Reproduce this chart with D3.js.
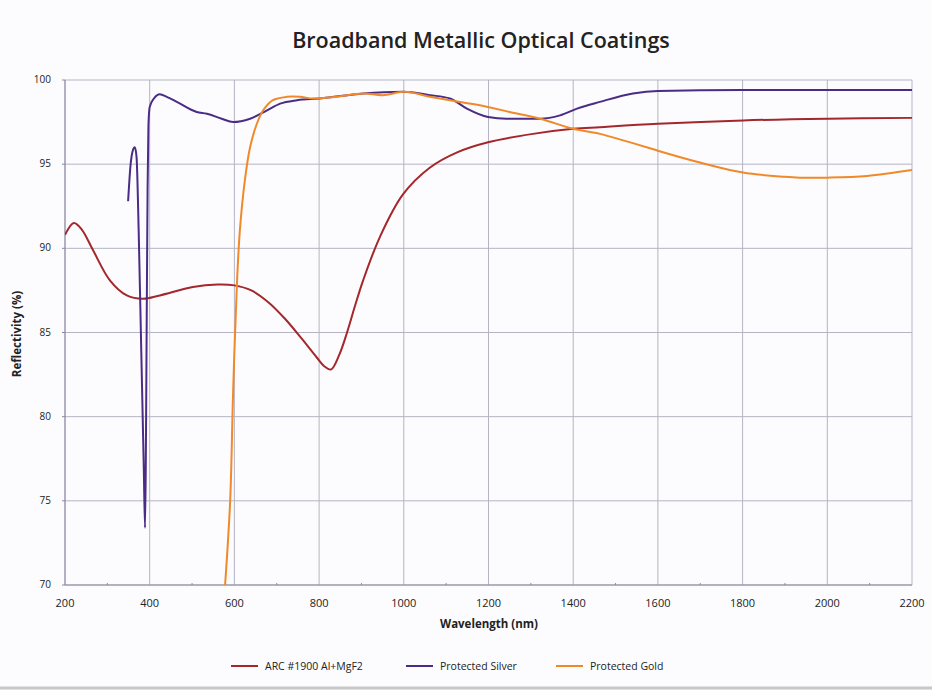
<!DOCTYPE html>
<html><head><meta charset="utf-8">
<script src="https://cdn.jsdelivr.net/npm/d3@7"></script>
<style>
html,body{margin:0;padding:0;background:#fcfcfe;}
svg{display:block;}
text{font-family:"Open Sans","DejaVu Sans",sans-serif;}
</style></head>
<body><svg id="c" width="932" height="690"></svg>
<script>
const title = "Broadband Metallic Optical Coatings";
const xLabel = "Wavelength (nm)";
const yLabel = "Reflectivity (%)";
const xTicks = [200,400,600,800,1000,1200,1400,1600,1800,2000,2200];
const xMinorTicks = [300,500,700,900,1100,1300,1500,1700,1900,2100];
const yTicks = [70,75,80,85,90,95,100];
const seriesNames = ["ARC #1900 Al+MgF2","Protected Silver","Protected Gold"];
const seriesColors = ["#a3272b","#4a2c86","#f0892a"];

const arcWl = [200,221,240,266,306,346,384,424,502,560,600,640,680,720,760,795,812,828,848,866,885,904,944,998,1062,1126,1199,1305,1400,1463,1600,1801,2002,2200];
const arcR  = [90.8,91.5,91.1,89.9,88.1,87.2,87.0,87.2,87.7,87.85,87.8,87.5,86.8,85.8,84.6,83.5,83.0,82.8,83.7,85.0,86.6,88.1,90.7,93.2,94.8,95.7,96.3,96.8,97.1,97.2,97.4,97.6,97.7,97.75];

const silverWl = [349,355,360,365,369,374,380,386,389,391,393,395,397,400,410,424,440,464,511,535,570,597,637,677,708,748,802,904,998,1062,1109,1149,1199,1243,1322,1369,1409,1463,1541,1600,1800,2000,2200];
const silverR  = [92.8,95.0,95.8,96.0,95.4,91.0,84.0,77.0,73.4,78.0,86.0,93.5,97.3,98.4,98.9,99.15,99.0,98.7,98.1,98.0,97.7,97.5,97.7,98.2,98.6,98.8,98.9,99.2,99.3,99.1,98.9,98.3,97.8,97.7,97.7,97.9,98.3,98.7,99.2,99.35,99.4,99.4,99.4];

const goldWl = [578,590,597,606,613,625,637,653,668,691,724,755,786,840,904,950,998,1030,1062,1109,1180,1199,1250,1322,1400,1463,1520,1581,1600,1699,1801,1900,1935,2002,2094,2200];
const goldR  = [70.0,75.0,81.5,87.9,91.1,94.1,96.0,97.4,98.2,98.8,99.0,99.0,98.9,99.0,99.2,99.1,99.3,99.2,99.0,98.8,98.5,98.4,98.1,97.7,97.1,96.8,96.4,95.95,95.8,95.1,94.5,94.25,94.2,94.2,94.3,94.65];

const svg = d3.select("#c");
const m = {l:65, r:912, t:80, b:585};
const x = d3.scaleLinear().domain([200,2200]).range([m.l,m.r]);
const y = d3.scaleLinear().domain([70,100]).range([m.b,m.t]);
const gridC = "#b4b4c4";

// title
svg.append("text").attr("x",481).attr("y",48).attr("text-anchor","middle")
  .attr("font-size",21.5).attr("font-weight",600).attr("fill","#222").text(title);

const g = svg.append("g");
// grid
g.selectAll(".hg").data(yTicks).join("line")
  .attr("x1",m.l).attr("x2",m.r).attr("y1",d=>y(d)).attr("y2",d=>y(d))
  .attr("stroke",gridC).attr("stroke-width",1);
g.selectAll(".vg").data(xTicks).join("line")
  .attr("x1",d=>x(d)).attr("x2",d=>x(d)).attr("y1",m.t).attr("y2",m.b)
  .attr("stroke",gridC).attr("stroke-width",1);
// axes lines
g.append("line").attr("x1",m.l).attr("x2",m.r).attr("y1",m.b).attr("y2",m.b).attr("stroke","#8a8aa0");
g.append("line").attr("x1",m.l).attr("x2",m.l).attr("y1",m.t).attr("y2",m.b).attr("stroke","#8a8aa0");
// minor ticks
g.selectAll(".mt").data(xMinorTicks).join("line")
  .attr("x1",d=>x(d)).attr("x2",d=>x(d)).attr("y1",m.b-2).attr("y2",m.b)
  .attr("stroke","#8a8aa0");
// y ticks
g.selectAll(".yt").data(yTicks).join("line")
  .attr("x1",m.l-3).attr("x2",m.l).attr("y1",d=>y(d)).attr("y2",d=>y(d)).attr("stroke","#8a8aa0");

// tick labels
svg.selectAll(".xl").data(xTicks).join("text")
  .attr("x",d=>x(d)).attr("y",m.b+22).attr("text-anchor","middle")
  .attr("font-size",11).attr("fill","#222").text(d=>d);
svg.selectAll(".yl").data(yTicks).join("text")
  .attr("x",m.l-14).attr("y",d=>y(d)+3).attr("text-anchor","end")
  .attr("font-size",10).attr("fill","#222").text(d=>d);

// axis titles
svg.append("text").attr("x",489).attr("y",628).attr("text-anchor","middle")
  .attr("font-size",11.5).attr("font-weight",700).attr("fill","#222").text(xLabel);
svg.append("text").attr("transform","translate(21,334) rotate(-90)").attr("text-anchor","middle")
  .attr("font-size",11.5).attr("font-weight",700).attr("fill","#222").text(yLabel);

// series
const series = [
  {wl:arcWl, r:arcR, curve:d3.curveCatmullRom.alpha(0.5)},
  {wl:silverWl, r:silverR, curve:d3.curveMonotoneX},
  {wl:goldWl, r:goldR, curve:d3.curveCatmullRom.alpha(0.5)}
];
svg.append("clipPath").attr("id","pc").append("rect")
  .attr("x",m.l).attr("y",m.t-5).attr("width",m.r-m.l+2).attr("height",m.b-m.t+5);
series.forEach((s,i)=>{
  const pts = s.wl.map((w,j)=>[w,s.r[j]]);
  const line = d3.line().x(d=>x(d[0])).y(d=>y(d[1])).curve(s.curve);
  svg.append("path").attr("d",line(pts)).attr("fill","none")
    .attr("stroke",seriesColors[i]).attr("stroke-width",2).attr("clip-path","url(#pc)");
});

// legend
const legX = [231,406,556];
const leg = svg.selectAll(".lg").data(seriesNames).join("g")
  .attr("transform",(d,i)=>`translate(${legX[i]},666)`);
leg.append("line").attr("x1",0).attr("x2",27).attr("y1",0).attr("y2",0)
  .attr("stroke",(d,i)=>seriesColors[i]).attr("stroke-width",2);
leg.append("text").attr("x",34).attr("y",4).attr("font-size",10.5).attr("fill","#222").text(d=>d);

// bottom border
svg.append("line").attr("x1",0).attr("x2",932).attr("y1",688).attr("y2",688).attr("stroke","#c8c8c8").attr("stroke-width",3);
</script></body></html>
